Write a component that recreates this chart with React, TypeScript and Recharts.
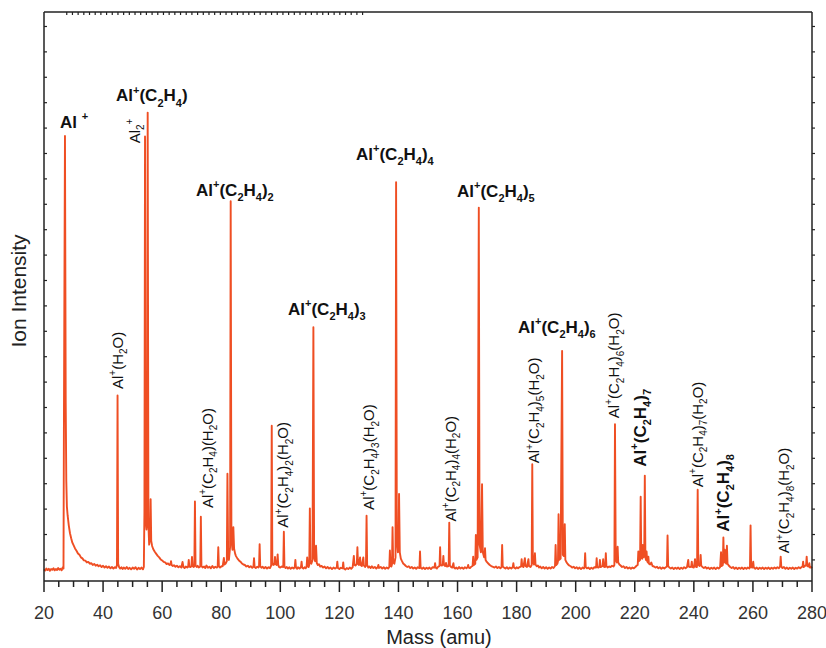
import React from 'react';
import { LineChart, Line, XAxis, YAxis, ReferenceDot } from 'recharts';

const FONT = '"Liberation Sans", Arial, Helvetica, sans-serif';
const AXIS = '#222';
const TRACE = '#EF4E23';

const W = 826;
const H = 648;
const PLOT = { left: 44, right: 812, top: 12, bottom: 581 };

// axis ticks
const massTicks = [20, 25, 30, 35, 40, 45, 50, 55, 60, 65, 70, 75, 80, 85, 90, 95, 100, 105, 110, 115, 120, 125, 130, 135, 140, 145, 150, 155, 160, 165, 170, 175, 180, 185, 190, 195, 200, 205, 210, 215, 220, 225, 230, 235, 240, 245, 250, 255, 260, 265, 270, 275, 280];
const massLabels = [20, 40, 60, 80, 100, 120, 140, 160, 180, 200, 220, 240, 260, 280];
const intensityTicks = [1, 2, 3, 4, 5, 6, 7, 8, 9, 10, 11, 12, 13, 14, 15, 16, 17, 18, 19, 20, 21, 22];

// spectrum: [mass (amu), ion signal (arb.)]
const seg20to60: [number, number][] = [
  [20.0, 0.63], [20.4, 0.58], [20.8, 0.66], [21.2, 0.6], [21.6, 0.65], [22.0, 0.57], [22.4, 0.64], [22.8, 0.61], [23.2, 0.67], [23.6, 0.59],
  [24.0, 0.64], [24.4, 0.6], [24.8, 0.68], [25.2, 0.61], [25.6, 0.65], [26.0, 0.59], [26.3, 0.7], [26.6, 0.66],
  [26.75, 6.5], [27.1, 17.69], [27.35, 7.2], [27.55, 4.1], [27.75, 3.1], [28.0, 2.75], [28.4, 2.35], [28.8, 2.05], [29.2, 1.85], [29.6, 1.68],
  [30.0, 1.58], [30.5, 1.45], [31.0, 1.36], [31.5, 1.25], [32.0, 1.2], [32.5, 1.1], [33.0, 1.06], [33.5, 0.98], [34.0, 0.97], [34.5, 0.9],
  [35.0, 0.92], [35.5, 0.85], [36.0, 0.87], [36.5, 0.8], [37.0, 0.84], [37.5, 0.77], [38.0, 0.81], [38.5, 0.75], [39.0, 0.79], [39.5, 0.72],
  [40.0, 0.77], [40.5, 0.7], [41.0, 0.75], [41.5, 0.69], [42.0, 0.74], [42.5, 0.67], [43.0, 0.72], [43.5, 0.66], [44.0, 0.71], [44.4, 0.68],
  [44.7, 0.8], [44.9, 7.47], [45.1, 0.85], [45.4, 0.72], [45.8, 0.66], [46.2, 0.71], [46.6, 0.64], [47.0, 0.7], [47.5, 0.65], [48.0, 0.72],
  [48.5, 0.64], [49.0, 0.69], [49.5, 0.63], [50.0, 0.7], [50.5, 0.65], [51.0, 0.71], [51.5, 0.62], [52.0, 0.69], [52.5, 0.64], [53.0, 0.7],
  [53.5, 0.63], [53.8, 0.72], [54.0, 2.9], [54.2, 17.67], [54.4, 2.6], [54.7, 2.2], [54.9, 2.6], [55.1, 18.61], [55.35, 2.4], [55.6, 1.6],
  [55.9, 1.9], [56.1, 3.39], [56.3, 1.75], [56.6, 1.55], [57.0, 1.42], [57.5, 1.32], [58.0, 1.24], [58.5, 1.16], [59.0, 1.1], [59.5, 1.02],
  [60.0, 0.98],
];

const seg60to100: [number, number][] = [
  [60.5, 0.92], [61.0, 0.9], [61.5, 0.84], [62.0, 0.86], [62.5, 0.8], [62.8, 0.82], [63.0, 0.95], [63.2, 0.8], [63.6, 0.76], [64.0, 0.79],
  [64.5, 0.73], [65.0, 0.77], [65.5, 0.71], [66.0, 0.75], [66.5, 0.7], [66.9, 0.92], [67.2, 0.72], [67.6, 0.68], [68.0, 0.74], [68.5, 0.7],
  [68.8, 0.73], [69.0, 1.0], [69.2, 0.74], [69.6, 0.72], [69.9, 0.76], [70.1, 1.12], [70.3, 0.75], [70.7, 0.72], [70.9, 0.76], [71.1, 3.3],
  [71.3, 0.78], [71.7, 0.72], [72.0, 0.77], [72.4, 0.7], [72.9, 0.74], [73.1, 2.7], [73.3, 0.76], [73.7, 0.7], [74.2, 0.74], [74.6, 0.68],
  [75.0, 0.78], [75.5, 0.69], [76.0, 0.73], [76.5, 0.67], [77.0, 0.76], [77.5, 0.68], [78.0, 0.73], [78.5, 0.7], [78.8, 0.74], [79.0, 1.5],
  [79.2, 0.75], [79.6, 0.7], [80.0, 0.74], [80.5, 0.76], [80.9, 1.08], [81.1, 0.82], [81.5, 0.86], [81.9, 0.95], [82.1, 4.39], [82.35, 1.1],
  [82.6, 1.0], [83.0, 1.5], [83.2, 15.12], [83.45, 1.8], [83.8, 1.4], [84.1, 2.29], [84.35, 1.45], [84.7, 1.25], [85.0, 1.15], [85.5, 1.05],
  [86.0, 0.98], [86.5, 0.93], [87.0, 0.86], [87.5, 0.82], [88.0, 0.8], [88.5, 0.74], [89.0, 0.77], [89.5, 0.71], [90.0, 0.75], [90.5, 0.69],
  [90.9, 0.74], [91.1, 1.07], [91.3, 0.72], [91.7, 0.68], [92.2, 0.73], [92.6, 0.7], [92.8, 0.74], [93.0, 1.62], [93.2, 0.75], [93.6, 0.69],
  [94.0, 0.73], [94.5, 0.67], [95.0, 0.72], [95.5, 0.66], [96.0, 0.71], [96.5, 0.68], [96.9, 0.78], [97.1, 6.28], [97.3, 0.9], [97.6, 0.8],
  [98.0, 0.82], [98.2, 1.12], [98.4, 0.84], [98.7, 0.8], [98.9, 0.86], [99.1, 1.22], [99.3, 0.8], [99.6, 0.72], [100.0, 0.7],
];

const seg100to140: [number, number][] = [
  [100.5, 0.74], [101.0, 0.72], [101.2, 2.11], [101.4, 0.74], [101.8, 0.68], [102.2, 0.72], [102.6, 0.66], [103.0, 0.71], [103.5, 0.65], [104.0, 0.7],
  [104.5, 0.66], [104.9, 0.72], [105.1, 1.0], [105.3, 0.7], [105.7, 0.65], [106.0, 0.71], [106.5, 0.66], [107.0, 0.72], [107.2, 0.93], [107.4, 0.7],
  [107.8, 0.66], [108.2, 0.71], [108.6, 0.67], [108.9, 0.74], [109.1, 1.1], [109.3, 0.76], [109.6, 0.72], [109.8, 0.8], [110.0, 3.03], [110.2, 0.9],
  [110.5, 0.85], [110.9, 1.0], [111.2, 10.16], [111.45, 1.1], [111.8, 0.95], [112.1, 1.56], [112.35, 0.88], [112.7, 0.8], [113.1, 0.83], [113.5, 0.74],
  [114.0, 0.76], [114.5, 0.7], [115.0, 0.74], [115.5, 0.67], [116.0, 0.72], [116.5, 0.66], [117.0, 0.7], [117.5, 0.64], [118.0, 0.7], [118.5, 0.66],
  [119.1, 0.7], [119.3, 0.93], [119.5, 0.68], [120.0, 0.64], [120.5, 0.69], [121.1, 0.67], [121.3, 0.9], [121.5, 0.66], [122.0, 0.62], [122.5, 0.68],
  [123.0, 0.64], [123.5, 0.7], [124.0, 0.65], [124.5, 0.72], [124.9, 1.16], [125.1, 0.8], [125.5, 0.78], [125.9, 0.85], [126.1, 1.5], [126.3, 0.85],
  [126.6, 0.8], [127.0, 1.1], [127.2, 0.8], [127.6, 0.76], [128.1, 1.1], [128.3, 0.78], [128.7, 0.72], [129.0, 0.78], [129.2, 2.74], [129.4, 0.8],
  [129.8, 0.7], [130.2, 0.74], [130.6, 0.68], [131.0, 0.75], [131.5, 0.68], [132.0, 0.72], [132.5, 0.66], [133.0, 0.72], [133.2, 0.8], [133.4, 0.68],
  [134.0, 0.72], [134.5, 0.66], [135.0, 0.71], [135.5, 0.65], [136.0, 0.7], [136.5, 0.66], [136.9, 0.72], [137.1, 1.37], [137.3, 0.76], [137.6, 0.74],
  [137.8, 0.82], [138.0, 2.29], [138.2, 0.9], [138.6, 0.85], [139.0, 1.1], [139.2, 15.87], [139.45, 1.8], [139.8, 1.3], [140.0, 1.4],
];

const seg140to200: [number, number][] = [
  [140.2, 3.6], [140.45, 1.3], [140.8, 1.05], [141.2, 0.95], [141.6, 0.86], [142.0, 0.82], [142.5, 0.76], [143.0, 0.72], [143.5, 0.75], [144.0, 0.68],
  [144.5, 0.72], [145.0, 0.66], [145.5, 0.7], [146.0, 0.65], [146.5, 0.71], [147.1, 0.68], [147.3, 1.33], [147.5, 0.7], [148.0, 0.65], [148.5, 0.7],
  [149.0, 0.64], [149.5, 0.69], [150.0, 0.65], [150.5, 0.7], [151.0, 0.64], [151.5, 0.71], [152.2, 0.7], [152.4, 0.87], [152.6, 0.7], [153.0, 0.66],
  [153.5, 0.74], [153.9, 0.76], [154.1, 1.5], [154.3, 0.8], [154.7, 0.78], [155.0, 0.82], [155.2, 1.16], [155.4, 0.8], [155.8, 0.76], [156.1, 0.88],
  [156.4, 0.74], [157.0, 0.76], [157.2, 2.47], [157.4, 0.78], [157.8, 0.72], [158.2, 0.7], [158.6, 0.87], [158.8, 0.7], [159.2, 0.66], [159.6, 0.7],
  [160.0, 0.65], [160.5, 0.72], [161.0, 0.66], [161.5, 0.7], [162.0, 0.65], [162.5, 0.71], [163.0, 0.67], [163.4, 0.72], [163.6, 0.8], [163.8, 0.7],
  [164.2, 0.68], [164.6, 0.73], [165.1, 0.76], [165.3, 1.13], [165.5, 0.8], [166.0, 0.85], [166.2, 1.98], [166.4, 1.0], [166.8, 1.1], [167.2, 14.87],
  [167.45, 1.6], [167.9, 1.3], [168.3, 3.98], [168.55, 1.3], [169.0, 1.1], [169.3, 1.46], [169.5, 1.0], [169.9, 0.92], [170.4, 0.86], [170.9, 0.8],
  [171.4, 0.76], [172.0, 0.73], [172.5, 0.7], [173.0, 0.74], [173.5, 0.68], [174.0, 0.72], [174.5, 0.67], [174.9, 0.72], [175.1, 1.59], [175.3, 0.74],
  [175.7, 0.7], [176.2, 0.66], [176.7, 0.71], [177.2, 0.65], [177.7, 0.7], [178.2, 0.66], [178.7, 0.72], [178.9, 0.87], [179.1, 0.7], [179.6, 0.66],
  [180.0, 0.71], [180.5, 0.67], [181.0, 0.72], [181.5, 0.74], [181.7, 1.03], [181.9, 0.76], [182.3, 0.72], [182.8, 1.07], [183.0, 0.76], [183.5, 0.72],
  [184.0, 1.03], [184.2, 0.75], [184.7, 0.72], [185.1, 0.8], [185.3, 4.77], [185.5, 0.9], [185.9, 0.82], [186.2, 1.26], [186.4, 0.82], [186.8, 0.75],
  [187.2, 0.78], [187.6, 0.7], [188.0, 0.74], [188.5, 0.67], [189.0, 0.72], [189.5, 0.66], [190.0, 0.71], [190.5, 0.65], [191.0, 0.7], [191.5, 0.66],
  [192.0, 0.72], [192.5, 0.68], [193.0, 0.76], [193.2, 1.59], [193.4, 0.8], [193.8, 0.85], [194.0, 0.95], [194.2, 2.8], [194.45, 1.0], [194.9, 1.05],
  [195.4, 9.23], [195.65, 1.2], [196.0, 1.15], [196.3, 2.41], [196.5, 1.0], [196.9, 0.9], [197.3, 0.84], [197.8, 0.78], [198.3, 0.75], [198.8, 0.7],
  [199.3, 0.73], [199.8, 0.67],
];

const seg200to280: [number, number][] = [
  [200.3, 0.71], [200.8, 0.65], [201.3, 0.7], [201.8, 0.64], [202.3, 0.7], [202.8, 0.66], [203.0, 0.72], [203.2, 1.26], [203.4, 0.72], [203.8, 0.67],
  [204.3, 0.7], [204.8, 0.64], [205.3, 0.69], [205.8, 0.65], [206.3, 0.71], [206.9, 0.7], [207.1, 1.07], [207.3, 0.72], [207.7, 0.7], [208.0, 0.74],
  [208.2, 1.0], [208.4, 0.72], [208.8, 0.74], [209.1, 0.76], [209.3, 1.03], [209.5, 0.74], [209.9, 0.72], [210.0, 0.78], [210.2, 1.26], [210.4, 0.76],
  [210.8, 0.7], [211.3, 0.74], [211.8, 0.72], [212.3, 0.77], [212.8, 0.74], [213.1, 0.8], [213.3, 6.34], [213.55, 1.0], [213.9, 0.9], [214.2, 1.52],
  [214.4, 0.9], [214.8, 0.82], [215.2, 0.78], [215.7, 0.72], [216.2, 0.75], [216.7, 0.68], [217.2, 0.72], [217.7, 0.66], [218.2, 0.7], [218.7, 0.65],
  [219.2, 0.7], [219.7, 0.67], [220.2, 0.72], [220.7, 0.78], [221.0, 0.8], [221.2, 1.33], [221.4, 0.95], [221.8, 1.0], [222.0, 3.49], [222.2, 1.1],
  [222.5, 1.05], [222.7, 1.59], [222.9, 1.1], [223.2, 1.15], [223.4, 4.32], [223.6, 1.1], [223.8, 1.0], [224.0, 1.33], [224.2, 0.95], [224.4, 0.9],
  [224.6, 1.13], [224.8, 0.85], [225.2, 0.82], [225.6, 0.9], [226.0, 0.76], [226.5, 0.74], [227.0, 0.7], [227.5, 0.73], [228.0, 0.67], [228.5, 0.71],
  [229.0, 0.65], [229.5, 0.7], [230.0, 0.66], [230.5, 0.71], [230.9, 0.74], [231.1, 1.96], [231.3, 0.76], [231.7, 0.7], [232.2, 0.66], [232.7, 0.7],
  [233.2, 0.64], [233.7, 0.69], [234.2, 0.65], [234.7, 0.7], [235.2, 0.64], [235.7, 0.69], [236.2, 0.65], [236.7, 0.71], [237.2, 0.67], [237.7, 0.72],
  [238.1, 1.0], [238.3, 0.74], [238.7, 0.72], [239.1, 0.74], [239.3, 0.93], [239.5, 0.72], [240.0, 0.7], [240.4, 1.03], [240.6, 0.74], [241.0, 0.72],
  [241.1, 0.8], [241.3, 3.76], [241.5, 0.82], [241.9, 0.76], [242.1, 0.8], [242.3, 1.2], [242.5, 0.78], [242.9, 0.72], [243.4, 0.68], [243.9, 0.72],
  [244.4, 0.66], [244.9, 0.7], [245.4, 0.64], [245.9, 0.69], [246.4, 0.65], [246.9, 0.7], [247.4, 0.64], [247.9, 0.7], [248.4, 0.66], [248.9, 0.72],
  [249.2, 1.3], [249.4, 0.76], [249.8, 0.8], [250.0, 1.88], [250.2, 0.9], [250.5, 1.4], [250.7, 0.9], [251.0, 0.85], [251.2, 1.56], [251.4, 0.85],
  [251.8, 0.78], [252.3, 0.72], [252.8, 0.68], [253.3, 0.72], [253.8, 0.65], [254.3, 0.7], [254.8, 0.64], [255.3, 0.69], [255.8, 0.65], [256.3, 0.7],
  [256.8, 0.64], [257.3, 0.69], [257.8, 0.65], [258.3, 0.7], [258.8, 0.66], [259.0, 0.72], [259.2, 2.36], [259.4, 0.72], [259.8, 0.7], [260.1, 0.93],
  [260.3, 0.7], [260.8, 0.65], [261.3, 0.7], [261.8, 0.64], [262.3, 0.69], [262.8, 0.65], [263.3, 0.7], [263.8, 0.64], [264.3, 0.69], [264.8, 0.65],
  [265.3, 0.7], [265.8, 0.64], [266.3, 0.69], [266.8, 0.65], [267.3, 0.7], [267.8, 0.66], [268.3, 0.71], [268.8, 0.67], [269.2, 0.74], [269.4, 1.13],
  [269.6, 0.74], [270.0, 0.68], [270.5, 0.72], [271.0, 0.65], [271.5, 0.7], [272.0, 0.64], [272.5, 0.69], [273.0, 0.65], [273.5, 0.7], [274.0, 0.64],
  [274.5, 0.69], [275.0, 0.66], [275.5, 0.71], [276.0, 0.67], [276.5, 0.72], [276.8, 0.74], [277.0, 0.93], [277.2, 0.72], [277.6, 0.76], [278.0, 0.8],
  [278.2, 1.13], [278.4, 0.76], [278.9, 0.74], [279.1, 0.87], [279.3, 0.7], [279.7, 0.72], [280.0, 0.68],
];

const spectrum = [...seg20to60, ...seg60to100, ...seg100to140, ...seg140to200, ...seg200to280]
  .map(([mass, signal]) => ({ mass, signal }));

// peak assignments; '_' = subscript, '^' = superscript (next char)
// mass/level = where the text starts (baseline), in data units
const annotations = [
  { text: 'Al ^+', mass: 25.42, level: 18.02, bold: true, vertical: false },
  { text: 'Al^+(C_2H_4)', mass: 44.38, level: 19.05, bold: true, vertical: false },
  { text: 'Al^+(C_2H_4)_2', mass: 71.46, level: 15.34, bold: true, vertical: false },
  { text: 'Al^+(C_2H_4)_3', mass: 102.6, level: 10.65, bold: true, vertical: false },
  { text: 'Al^+(C_2H_4)_4', mass: 125.63, level: 16.75, bold: true, vertical: false },
  { text: 'Al^+(C_2H_4)_5', mass: 159.82, level: 15.3, bold: true, vertical: false },
  { text: 'Al^+(C_2H_4)_6', mass: 180.47, level: 9.93, bold: true, vertical: false },
  { text: 'Al_2^+', mass: 52.5, level: 17.4, bold: false, vertical: true },
  { text: 'Al^+(H_2O)', mass: 46.58, level: 7.73, bold: false, vertical: true },
  { text: 'Al^+(C_2H_4)(H_2O)', mass: 77.11, level: 3.04, bold: false, vertical: true },
  { text: 'Al^+(C_2H_4)_2(H_2O)', mass: 102.71, level: 2.27, bold: false, vertical: true },
  { text: 'Al^+(C_2H_4)_3(H_2O)', mass: 131.72, level: 2.97, bold: false, vertical: true },
  { text: 'Al^+(C_2H_4)_4(H_2O)', mass: 159.48, level: 2.51, bold: false, vertical: true },
  { text: 'Al^+(C_2H_4)_5(H_2O)', mass: 187.68, level: 4.81, bold: false, vertical: true },
  { text: 'Al^+(C_2H_4)_6(H_2O)', mass: 214.67, level: 6.58, bold: false, vertical: true },
  { text: 'Al^+(C_2H_4)_7', mass: 223.81, level: 4.67, bold: true, vertical: true },
  { text: 'Al^+(C_2H_4)_7(H_2O)', mass: 243.0, level: 3.86, bold: false, vertical: true },
  { text: 'Al^+(C_2H_4)_8', mass: 252.01, level: 2.11, bold: true, vertical: true },
  { text: 'Al^+(C_2H_4)_8(H_2O)', mass: 272.32, level: 1.26, bold: false, vertical: true },
];

type Part = { t: string; k: 'n' | 'sub' | 'sup' };

const parseFormula = (s: string): Part[] => {
  const out: Part[] = [];
  let i = 0;
  while (i < s.length) {
    const c = s[i];
    if ((c === '_' || c === '^') && i + 1 < s.length) {
      out.push({ t: s[i + 1], k: c === '_' ? 'sub' : 'sup' });
      i += 2;
    } else {
      let j = i;
      while (j < s.length && s[j] !== '_' && s[j] !== '^') j++;
      out.push({ t: s.slice(i, j), k: 'n' });
      i = j;
    }
  }
  return out;
};

const Formula = ({ x, y, text, bold, vertical }: any) => {
  const size = bold ? 17 : 15;
  const small = Math.round(size * 0.64);
  const shift = { n: 0, sub: size * 0.3, sup: -size * 0.45 };
  let prev = 0;
  return (
    <text
      x={x}
      y={y}
      transform={vertical ? `rotate(-90 ${x} ${y})` : undefined}
      fontSize={size}
      fontWeight={bold ? 'bold' : 'normal'}
      fontFamily={FONT}
      fill="#111"
    >
      {parseFormula(text).map((p, i) => {
        const dy = shift[p.k] - prev;
        prev = shift[p.k];
        return (
          <tspan key={i} dy={dy} fontSize={p.k === 'n' ? size : small}>{p.t}</tspan>
        );
      })}
    </text>
  );
};

const BottomTick = ({ x, y, payload }: any) => {
  const major = massLabels.includes(payload.value);
  return (
    <g>
      <line x1={x} x2={x} y1={y} y2={y + (major ? 11 : 6)} stroke={AXIS} strokeWidth={1.5} />
      {major && (
        <text x={x} y={y + 38} textAnchor="middle" fontSize={18} fontFamily={FONT} fill="#333">
          {payload.value}
        </text>
      )}
    </g>
  );
};

const TopTick = ({ x, y }: any) => (
  <line x1={x} x2={x} y1={y} y2={y + 3} stroke={AXIS} strokeWidth={1.2} />
);

const LeftTick = ({ x, y }: any) => (
  <line x1={x} x2={x + 3} y1={y} y2={y} stroke={AXIS} strokeWidth={1.2} />
);

const RightTick = ({ x, y }: any) => (
  <line x1={x} x2={x + 3} y1={y} y2={y} stroke={AXIS} strokeWidth={1.2} />
);

const massTitle = () => (
  <text x={439} y={644} textAnchor="middle" fontSize={20} fontFamily={FONT} fill="#222">
    Mass (amu)
  </text>
);

const intensityTitle = () => (
  <text x={26} y={291} transform="rotate(-90 26 291)" textAnchor="middle" fontSize={21} fontFamily={FONT} fill="#222">
    Ion Intensity
  </text>
);

const Y_DOMAIN: [number, number] = [0.17, 22.57];

export default function App() {
  return (
    <div style={{ width: W, height: H }}>
      <style>{'body{margin:0}'}</style>
      <LineChart width={W} height={H} data={spectrum} margin={{ top: 0, right: 0, bottom: 0, left: 0 }}>
        <XAxis
          xAxisId="bottom"
          dataKey="mass"
          type="number"
          domain={[20, 280]}
          ticks={massTicks}
          interval={0}
          height={H - PLOT.bottom}
          tickSize={0}
          tickMargin={0}
          tickLine={false}
          tick={<BottomTick />}
          axisLine={{ stroke: AXIS, strokeWidth: 1.5 }}
          label={{ content: massTitle }}
        />
        <XAxis
          xAxisId="top"
          orientation="top"
          type="number"
          domain={[20, 280]}
          ticks={massTicks}
          interval={0}
          height={PLOT.top}
          tickSize={0}
          tickMargin={0}
          tickLine={false}
          tick={<TopTick />}
          axisLine={{ stroke: AXIS, strokeWidth: 1.5 }}
        />
        <YAxis
          yAxisId="left"
          type="number"
          domain={Y_DOMAIN}
          allowDataOverflow
          ticks={intensityTicks}
          interval={0}
          width={PLOT.left}
          tickSize={0}
          tickMargin={0}
          tickLine={false}
          tick={<LeftTick />}
          axisLine={{ stroke: AXIS, strokeWidth: 1.5 }}
          label={{ content: intensityTitle }}
        />
        <YAxis
          yAxisId="right"
          orientation="right"
          type="number"
          domain={Y_DOMAIN}
          allowDataOverflow
          ticks={intensityTicks}
          interval={0}
          width={W - PLOT.right}
          tickSize={0}
          tickMargin={0}
          tickLine={false}
          tick={<RightTick />}
          axisLine={{ stroke: AXIS, strokeWidth: 1.5 }}
        />
        <Line
          xAxisId="bottom"
          yAxisId="left"
          type="linear"
          dataKey="signal"
          stroke={TRACE}
          strokeWidth={1.9}
          strokeLinejoin="round"
          dot={false}
          activeDot={false}
          isAnimationActive={false}
        />
        {annotations.map((a, i) => (
          <ReferenceDot
            key={i}
            xAxisId="bottom"
            yAxisId="left"
            x={a.mass}
            y={a.level}
            r={0}
            shape={(p: any) => <Formula x={p.cx} y={p.cy} text={a.text} bold={a.bold} vertical={a.vertical} />}
          />
        ))}
      </LineChart>
    </div>
  );
}
